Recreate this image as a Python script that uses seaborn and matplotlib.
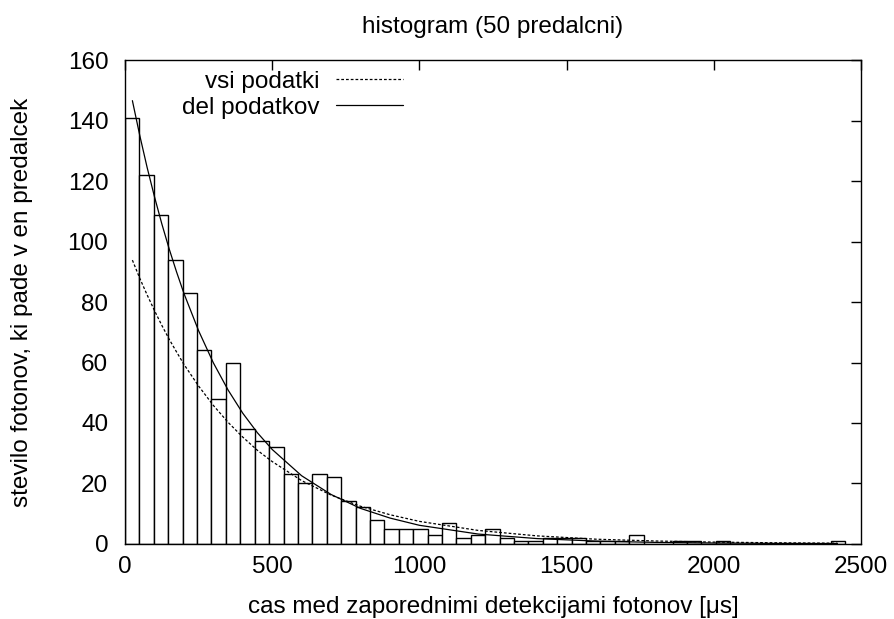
import matplotlib
matplotlib.use("Agg")
import matplotlib.pyplot as plt
import seaborn as sns
import pandas as pd
import numpy as np

# histogram counts per bin (50 bins)
counts = [141, 122, 109, 94, 83, 64, 48, 60, 38, 34,
          32, 23, 20, 23, 22, 14, 12, 8, 5, 5,
          5, 3, 7, 2, 3, 5, 2, 1, 1, 2,
          2, 2, 1, 1, 1, 3, 0, 0, 1, 1,
          0, 1, 0, 0, 0, 0, 0, 0, 0, 1]
x_min, x_max = 0.0, 2447.0

# fitted exponential curves
curve_x = [25, 50, 75, 100, 125, 150, 175, 200, 250, 300, 350, 400, 450, 500,
           600, 700, 800, 900, 1000, 1200, 1400, 1600, 1800, 2000, 2200, 2420]
vsi_y = [93.9, 87.9, 82.4, 77.2, 72.3, 67.7, 63.5, 59.4, 52.2, 45.8, 40.2, 35.3, 30.9, 27.2,
         20.9, 16.1, 12.4, 9.6, 7.4, 4.4, 2.6, 1.5, 0.91, 0.54, 0.32, 0.18]
del_y = [146.7, 135.2, 124.6, 114.9, 105.9, 97.6, 90.0, 82.9, 70.5, 59.9, 50.9, 43.2, 36.7, 31.2,
         22.5, 16.3, 11.7, 8.5, 6.1, 3.2, 1.7, 0.87, 0.45, 0.24, 0.12, 0.06]

FS = 17.5

sns.set_style("white")
plt.rcParams["font.family"] = ["Liberation Sans", "DejaVu Sans"]
plt.rcParams["font.size"] = FS
for key in ["text.color", "axes.labelcolor", "xtick.color", "ytick.color"]:
    plt.rcParams[key] = "black"

fig = plt.figure(figsize=(8.95, 6.19), dpi=100)
ax = fig.add_axes([0.1397, 0.1216, 0.8223, 0.7807])

n_bins = len(counts)
width = (x_max - x_min) / n_bins
hist = pd.DataFrame({"t": x_min + width * (np.arange(n_bins) + 0.5),
                     "n": np.asarray(counts, dtype=float)})
sns.histplot(data=hist, x="t", weights="n", bins=n_bins, binrange=(x_min, x_max),
             ax=ax, color="white", edgecolor="black", linewidth=1.0, alpha=1.0)

sns.lineplot(x=curve_x, y=vsi_y, ax=ax, color="black", linewidth=0.9,
             label="vsi podatki")
ax.lines[-1].set_dashes((2.2, 1.6))
sns.lineplot(x=curve_x, y=del_y, ax=ax, color="black", linewidth=0.9,
             label="del podatkov")

ax.set_xlim(0, 2500)
ax.set_ylim(0, 160)
ax.set_xticks(range(0, 2501, 500))
ax.set_yticks(range(0, 161, 20))
ax.tick_params(direction="in", length=7, width=1, top=True, right=True, labelsize=FS)
ax.tick_params(axis="x", pad=9)
ax.tick_params(axis="y", pad=12)
for s in ax.spines.values():
    s.set_color("black")
    s.set_linewidth(1.0)

ax.set_title("histogram (50 predalcni)", fontsize=FS, pad=20)
ax.set_xlabel("cas med zaporednimi detekcijami fotonov [\u03bcs]", fontsize=FS, labelpad=13)
ax.set_ylabel("stevilo fotonov, ki pade v en predalcek", fontsize=FS, labelpad=25)

leg = ax.legend(loc="upper right", bbox_to_anchor=(0.378, 0.979), frameon=False,
                markerfirst=False, handlelength=2.75, labelspacing=0.17,
                handletextpad=0.7, borderaxespad=0, borderpad=0, fontsize=FS)

fig.savefig("out.png", dpi=100)
